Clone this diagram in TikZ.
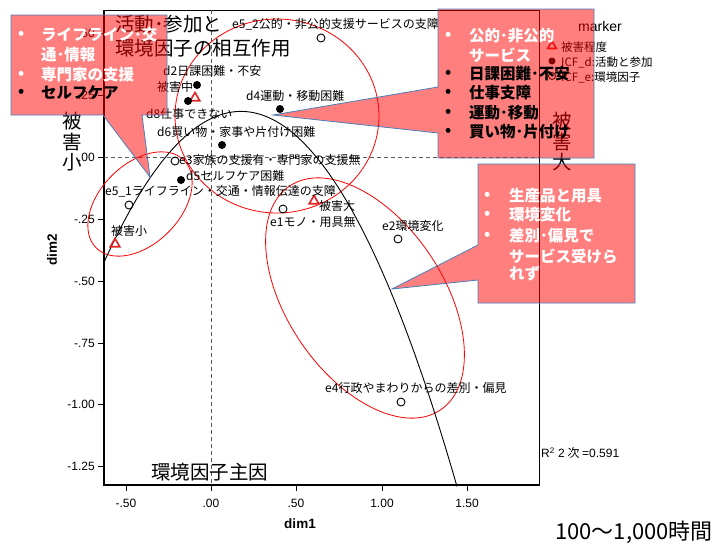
\documentclass[tikz,border=0pt]{standalone}
\usepackage{fontspec}
\setmainfont{Noto Sans CJK JP}
\newfontfamily\arial{Liberation Sans}
\usetikzlibrary{shapes.geometric}
\definecolor{callline}{RGB}{74,126,187}
\definecolor{trired}{RGB}{225,35,35}
\definecolor{refgray}{RGB}{90,90,90}
\tikzset{
  ptd/.style={circle,fill=black,inner sep=0pt,minimum size=8pt},
  pte/.style={circle,draw=black,line width=0.9pt,inner sep=0pt,minimum size=8pt},
  ptt/.style={regular polygon,regular polygon sides=3,draw=trired,line width=1.6pt,inner sep=0pt,minimum size=11pt},
  lab/.style={anchor=west,inner sep=0pt,font=\fontsize{12}{14}\selectfont},
  ticklab/.style={inner sep=0pt,font=\arial\fontsize{12}{14}\selectfont},
  bigtxt/.style={inner sep=0pt,font=\fontsize{19.5}{24}\selectfont},
  callout/.style={fill=red,fill opacity=0.5,draw=callline,line width=0.8pt},
  ctxt/.style={anchor=west,inner sep=0pt,font=\fontsize{15.5}{19}\selectfont\bfseries},
  ellip/.style={draw=red,line width=0.8pt},
}

\begin{document}
\begin{tikzpicture}[x=1pt,y=-1pt]
\useasboundingbox (0,0) rectangle (720,546);
% Frame and axes
\draw[line width=0.8pt] (104,10) rectangle (539,485);
\draw[line width=1.3pt] (104,10) -- (104,485) -- (539,485);
\draw[refgray,dash pattern=on 4pt off 3pt,line width=0.8pt] (104,157) -- (539,157);
\draw[refgray,dash pattern=on 4pt off 3pt,line width=0.8pt] (211,10) -- (211,485);
% Ticks
\foreach \y/\t in {33.5/.50,95/.25,157/.00,219/-.25,281/-.50,343/-.75,404/-1.00,466/-1.25}{
  \draw[line width=1pt] (98,\y) -- (104,\y);
  \node[ticklab,anchor=east] at (95,\y) {\t};
}
\foreach \x/\t in {126/-.50,211/.00,296/.50,382/1.00,467/1.50}{
  \draw[line width=1pt] (\x,485) -- (\x,491);
  \node[ticklab,anchor=north] at (\x,499) {\t};
}
\node[inner sep=0pt,font=\arial\fontsize{13.5}{16}\selectfont\bfseries] (xlab) at (300,524) {dim1};
\node[inner sep=0pt,rotate=90,font=\arial\fontsize{13.5}{16}\selectfont\bfseries] (ylab) at (52,250) {dim2};
% Ellipses
\draw[ellip] (277,116) ellipse[x radius=102,y radius=97];
\draw[ellip,rotate around={45:(140,204)}] (140,204) ellipse[x radius=62,y radius=40];
\draw[ellip,rotate around={-56:(365,298)}] (365,298) ellipse[x radius=135,y radius=78];
% Fit curve
\draw[line width=0.9pt] plot[domain=104:457,samples=90,smooth] (\x,{111.4+((\x-241)*0.089666)^2});
% Points
\node[pte] (e52) at (321,38) {};
\node[ptd] (d2) at (197,85) {};
\node[ptt] (tmid) at (195,98) {};
\node[ptd] (d8) at (188,101) {};
\node[ptd] (d4) at (280,109) {};
\node[ptd] (d6) at (222,145) {};
\node[pte] (e3) at (175,161) {};
\node[ptd] (d5) at (181,180) {};
\node[pte] (e51) at (129,205) {};
\node[ptt] (tlow) at (115,244) {};
\node[ptt] (thigh) at (314,201) {};
\node[pte] (e1) at (283,209) {};
\node[pte] (e2) at (398,239) {};
\node[pte] (e4) at (401,402) {};
% Point labels
\node[lab] (le52) at (232,24) {e5\_2公的・非公的支援サービスの支障};
\node[lab] (ld2) at (163,71) {d2日課困難・不安};
\node[lab] (ltmid) at (157,87) {被害中};
\node[lab] (ld4) at (246,96) {d4運動・移動困難};
\node[lab] (ld8) at (146,114) {d8仕事できない};
\node[lab] (ld6) at (157,132) {d6買い物・家事や片付け困難};
\node[lab] (le3) at (179,160) {e3家族の支援有・専門家の支援無};
\node[lab] (ld5) at (186,176) {d5セルフケア困難};
\node[lab] (le51) at (105,191) {e5\_1ライフライン・交通・情報伝達の支障};
\node[lab] (ltlow) at (111,231) {被害小};
\node[lab] (lthigh) at (319,206) {被害大};
\node[lab] (le1) at (270,222) {e1モノ・用具無};
\node[lab] (le2) at (382,226) {e2環境変化};
\node[lab] (le4) at (325,388) {e4行政やまわりからの差別・偏見};
% Legend
\node[inner sep=0pt,font=\arial\fontsize{14}{16}\selectfont] (lgh) at (600,26) {marker};
\node[ptt,minimum size=10pt] (lgt) at (552,46) {};
\node[ptd,minimum size=7pt] (lgd) at (552,61) {};
\node[pte,minimum size=7pt] (lge) at (552,76) {};
\node[lab,font=\fontsize{11.5}{13}\selectfont] (lglt) at (561,47) {被害程度};
\node[lab,font=\fontsize{11.5}{13}\selectfont] (lgld) at (561,62) {ICF\_d:活動と参加};
\node[lab,font=\fontsize{11.5}{13}\selectfont] (lgle) at (561,77) {ICF\_e:環境因子};
\node[lab,font=\fontsize{12}{14}\selectfont] (rsq) at (541,453) {{\arial R\textsuperscript{2} 2} 次 {\arial =0.591}};
% Big texts
\node[bigtxt,anchor=west,align=left] (ttl) at (115,36) {活動･参加と\\環境因子の相互作用};
\node[bigtxt,align=center,font=\fontsize{19.5}{20.5}\selectfont] (small) at (72,142) {被\\害\\小};
\node[bigtxt,align=center,font=\fontsize{19.5}{20.5}\selectfont] (large) at (562,142) {被\\害\\大};
\node[bigtxt,anchor=west] (envmain) at (151,472) {環境因子主因};
\node[bigtxt,anchor=west,font=\fontsize{22}{26}\selectfont] (hours) at (555,532) {100～1,000時間};
% Callouts
\draw[callout] (11,15) -- (167,15) -- (167,115) -- (142,115) -- (150,177) -- (103,115) -- (11,115) -- cycle;
\draw[callout] (438,9) -- (594,9) -- (594,158) -- (438,158) -- (438,133) -- (273,115) -- (438,87) -- cycle;
\draw[callout] (478,164) -- (635,164) -- (635,303) -- (478,303) -- (478,280) -- (392,289) -- (478,245) -- cycle;
% Callout texts
\node[ctxt,white] (b11) at (18,35) {•};
\node[ctxt,white] (c11) at (41,35) {ライフライン･交};
\node[ctxt,white] (c12) at (41,55) {通･情報};
\node[ctxt,white] (b13) at (18,75) {•};
\node[ctxt,white] (c13) at (41,75) {専門家の支援};
\node[ctxt] (b14) at (18,93) {•};
\node[ctxt] (c14) at (41,93) {セルフケア};
\node[ctxt,white] (b21) at (445,36) {•};
\node[ctxt,white] (c21) at (469,36) {公的･非公的};
\node[ctxt,white] (c22) at (469,55) {サービス};
\node[ctxt] (b23) at (445,74) {•};
\node[ctxt] (c23) at (469,74) {日課困難･不安};
\node[ctxt] (b24) at (445,93) {•};
\node[ctxt] (c24) at (469,93) {仕事支障};
\node[ctxt] (b25) at (445,113) {•};
\node[ctxt] (c25) at (469,113) {運動･移動};
\node[ctxt] (b26) at (445,132) {•};
\node[ctxt] (c26) at (469,132) {買い物･片付け};
\node[ctxt,white] (b31) at (484,196) {•};
\node[ctxt,white] (c31) at (509,196) {生産品と用具};
\node[ctxt,white] (b32) at (484,215) {•};
\node[ctxt,white] (c32) at (509,215) {環境変化};
\node[ctxt,white] (b33) at (484,236) {•};
\node[ctxt,white] (c33) at (509,236) {差別･偏見で};
\node[ctxt,white] (c34) at (509,256) {サービス受けら};
\node[ctxt,white] (c35) at (509,274) {れず};
\end{tikzpicture}
\end{document}
